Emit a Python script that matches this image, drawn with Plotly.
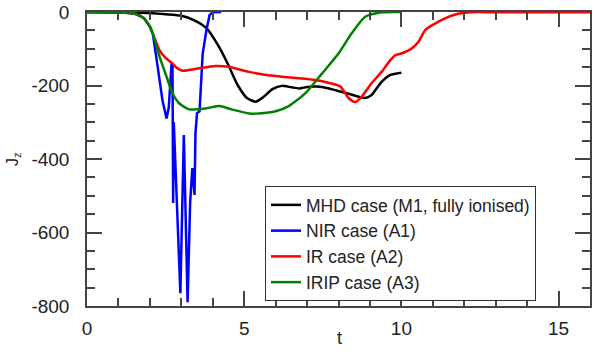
import plotly.graph_objects as go

# ── Data ─────────────────────────────────────────────────────
mhd_t = [0, 1, 2, 2.5, 3.0, 3.4, 3.8, 4.2, 4.5, 4.8, 5.1, 5.37, 5.6, 5.9, 6.2,
         6.5, 6.75, 7.0, 7.3, 7.7, 8.3, 8.85, 9.05, 9.37, 9.65, 10.0]
mhd_j = [0, -1, -3, -6, -10, -22, -44, -95, -145, -200, -235, -244, -232, -210, -201,
         -205, -208, -204, -203, -208, -222, -234, -226, -190, -171, -165]

nir_t = [0, 1.0, 1.5, 1.8, 2.0, 2.1, 2.25, 2.4, 2.53, 2.6, 2.69, 2.72, 2.74, 2.76,
         2.97, 3.08, 3.2, 3.28, 3.35, 3.42, 3.45, 3.5, 3.58, 3.63, 3.68, 3.8, 3.9, 4.0, 4.27]
nir_j = [0, -1, -4, -16, -40, -62, -150, -240, -290, -260, -140, -145, -520, -300,
         -765, -335, -790, -520, -425, -498, -330, -275, -270, -195, -113, -49, -8, -1, 0]

ir_t = [0, 1, 1.5, 1.8, 2.0, 2.1, 2.3, 2.5, 2.72, 2.85, 3.04, 3.3, 3.58, 4.1, 4.5,
        5.16, 5.6, 6.2, 6.74, 7.27, 7.7, 8.06, 8.32, 8.53, 8.74, 9.05, 9.37, 9.65,
        9.8, 10.0, 10.33, 10.55, 10.76, 11.0, 11.27, 11.8, 12.4, 13, 16]
ir_j = [0, -1, -4, -16, -40, -60, -103, -125, -140, -152, -160, -157, -153, -147, -149,
        -163, -170, -176, -180, -185, -193, -203, -234, -245, -230, -194, -163, -131,
        -118, -113, -99, -80, -49, -35, -22, -5, 0, -1, -1]

irip_t = [0, 1, 1.5, 1.8, 2.0, 2.1, 2.31, 2.53, 2.72, 2.94, 3.26, 3.8, 4.21, 4.6,
          5.16, 5.47, 6.0, 6.42, 6.95, 7.48, 8.0, 8.42, 8.85, 9.37, 10.0]
irip_j = [0, -1, -4, -16, -40, -60, -122, -176, -221, -249, -265, -262, -256, -265,
          -276, -276, -270, -256, -221, -167, -113, -58, -13, -1, 0]

x_ticks = [0, 5, 10, 15]
y_ticks = [0, -200, -400, -600, -800]

FONT = "Liberation Sans"
AXIS_COL = "#444444"
TEXT_COL = "#222222"

fig = go.Figure()

series = [
    (mhd_t, mhd_j, "MHD case (M1, fully ionised)", "#000000", "spline"),
    (nir_t, nir_j, "NIR case (A1)", "#0000ff", "linear"),
    (ir_t, ir_j, "IR case (A2)", "#ff0000", "spline"),
    (irip_t, irip_j, "IRIP case (A3)", "#008000", "spline"),
]
for t, j, name, color, shape in series:
    fig.add_trace(go.Scatter(
        x=t, y=j, mode="lines", name=name,
        line=dict(color=color, width=2.5, shape=shape, smoothing=0.6),
    ))

axis_common = dict(
    showline=True, linecolor=AXIS_COL, linewidth=1.5,
    mirror="allticks", ticks="inside", tickcolor=AXIS_COL,
    ticklen=15, tickwidth=1.5, showgrid=False, zeroline=False,
    automargin=False,
    tickfont=dict(family=FONT, size=19, color=TEXT_COL),
)

# axis titles as annotations so they sit where the reference has them
fig.add_annotation(text="t", xref="paper", yref="paper", x=(339 - 87) / 503,
                   y=-(338 - 306) / 294, showarrow=False,
                   xanchor="center", yanchor="middle",
                   font=dict(family=FONT, size=18, color=TEXT_COL))
fig.add_annotation(text="J<sub>z</sub>", xref="paper", yref="paper", x=-(87 - 13) / 503,
                   y=(306 - 159) / 294, showarrow=False, textangle=-90,
                   xanchor="center", yanchor="middle",
                   font=dict(family=FONT, size=16, color=TEXT_COL))

fig.update_layout(
    width=598, height=354,
    margin=dict(l=87, r=8, t=12, b=48),
    paper_bgcolor="white", plot_bgcolor="white",
    font=dict(family=FONT, color=TEXT_COL),
    xaxis=dict(
        **axis_common, range=[0, 16], tickvals=x_ticks,
        ticktext=[str(v) for v in x_ticks], ticklabelstandoff=4,
        minor=dict(dtick=1, ticklen=8, tickcolor=AXIS_COL, ticks="inside"),
    ),
    yaxis=dict(
        **axis_common, range=[-800, 0], tickvals=y_ticks,
        ticktext=[str(v) for v in y_ticks], ticklabelstandoff=12,
        minor=dict(dtick=50, ticklen=8, tickcolor=AXIS_COL, ticks="inside"),
    ),
    legend=dict(
        x=(265 - 87) / 503, y=(306 - 186) / 294, xanchor="left", yanchor="top",
        bgcolor="white", bordercolor="#333333", borderwidth=1,
        font=dict(family=FONT, size=17.5, color=TEXT_COL),
        tracegroupgap=0,
    ),
)

# drop the browser's default 8px body margin so the figure fills the window
fig.write_html("out.html", config={"displayModeBar": False},
               post_script="document.body.style.margin='0';")
